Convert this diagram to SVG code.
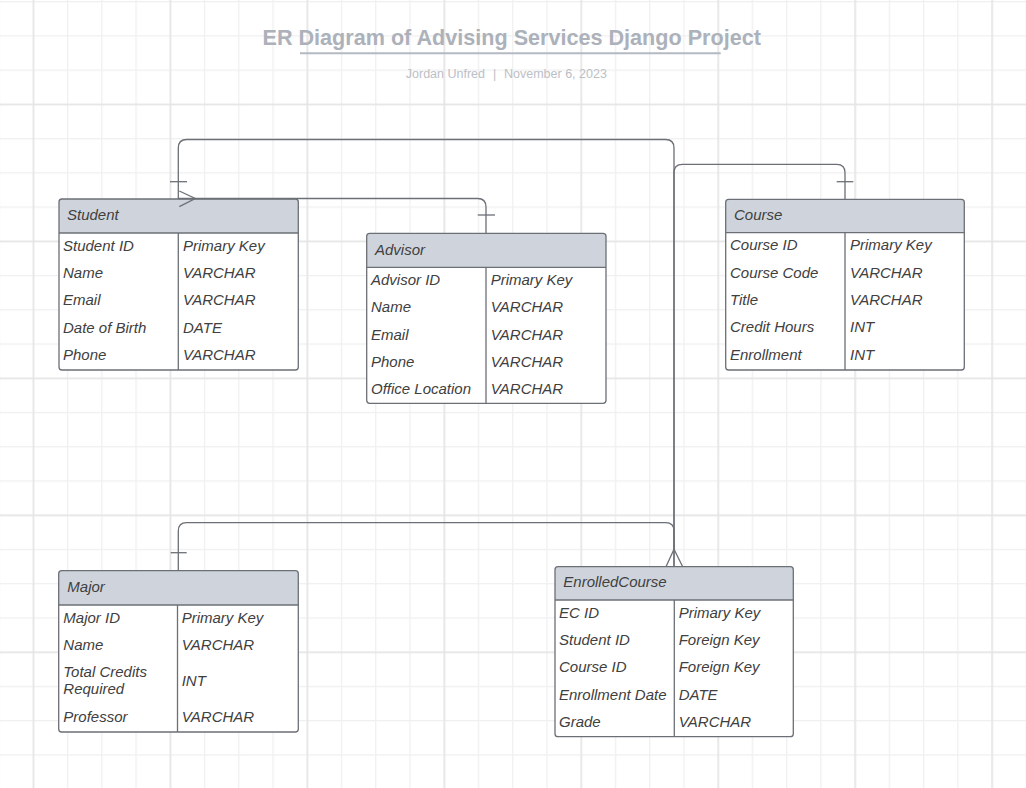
<svg xmlns="http://www.w3.org/2000/svg" width="1026" height="788" viewBox="0 0 1026 788">
<style>
.hdr{fill:#cfd4dc;stroke:none}
.box{fill:#ffffff;stroke:none}
.frame{fill:none;stroke:#6b6f76;stroke-width:1.3}
.div{stroke:#6b6f76;stroke-width:1.3}
.t{font-family:"Liberation Sans",Arial,sans-serif;font-size:15px;font-style:italic;fill:#404040}
.conn{fill:none;stroke:#6b6f76;stroke-width:1.3}
</style>
<defs>
<pattern id="minor" patternUnits="userSpaceOnUse" x="32.7" y="1" width="34.24" height="34.24">
<rect x="0" y="0" width="1.3" height="34.24" fill="#f0f0f0"/>
<rect x="0" y="0" width="34.24" height="1.3" fill="#f0f0f0"/>
</pattern>
<pattern id="major" patternUnits="userSpaceOnUse" x="32.7" y="103.7" width="136.96" height="136.96">
<rect x="0" y="0" width="1.4" height="136.96" fill="#e4e4e4"/>
<rect x="0" y="0" width="136.96" height="1.4" fill="#e4e4e4"/>
</pattern>
</defs>
<rect width="1026" height="788" fill="#ffffff"/>
<rect width="1026" height="788" fill="url(#minor)"/>
<rect width="1026" height="788" fill="url(#major)"/>

<g id="title">
<text x="511.7" y="45" text-anchor="middle" font-family="Liberation Sans,Arial,sans-serif" font-size="21.6" font-weight="bold" fill="#acb1ba">ER Diagram of Advising Services Django Project</text>
<line x1="300" y1="53.3" x2="720.7" y2="53.3" stroke="#b4b9c2" stroke-width="2"/>
<text x="485" y="77.5" text-anchor="end" font-family="Liberation Sans,Arial,sans-serif" font-size="12.5" fill="#bcc0c6">Jordan Unfred</text>
<text x="494.5" y="77.5" text-anchor="middle" font-family="Liberation Sans,Arial,sans-serif" font-size="12.5" fill="#bcc0c6">|</text>
<text x="504" y="77.5" font-family="Liberation Sans,Arial,sans-serif" font-size="12.5" fill="#bcc0c6">November 6, 2023</text>
</g>

<g id="student">
<rect class="box" x="59" y="199" width="239.3" height="171" rx="3"/>
<path class="hdr" d="M62,199 H295.3 Q298.3,199 298.3,202 V233 H59 V202 Q59,199 62,199 Z"/>
<rect class="frame" x="59" y="199" width="239.3" height="171" rx="3"/>
<line class="div" x1="59" y1="233" x2="298.3" y2="233"/>
<line class="div" x1="178.3" y1="233" x2="178.3" y2="370"/>
<text class="t" x="67" y="220">Student</text>
<text class="t" x="63" y="250.5">Student ID</text><text class="t" x="183" y="250.5">Primary Key</text>
<text class="t" x="63" y="277.9">Name</text><text class="t" x="183" y="277.9">VARCHAR</text>
<text class="t" x="63" y="305.3">Email</text><text class="t" x="183" y="305.3">VARCHAR</text>
<text class="t" x="63" y="332.7">Date of Birth</text><text class="t" x="183" y="332.7">DATE</text>
<text class="t" x="63" y="360.1">Phone</text><text class="t" x="183" y="360.1">VARCHAR</text>
</g>

<g id="advisor">
<rect class="box" x="366.7" y="233.3" width="239.3" height="170" rx="3"/>
<path class="hdr" d="M369.7,233.3 H603 Q606,233.3 606,236.3 V267.3 H366.7 V236.3 Q366.7,233.3 369.7,233.3 Z"/>
<rect class="frame" x="366.7" y="233.3" width="239.3" height="170" rx="3"/>
<line class="div" x1="366.7" y1="267.3" x2="606" y2="267.3"/>
<line class="div" x1="486" y1="267.3" x2="486" y2="403.3"/>
<text class="t" x="375" y="254.5">Advisor</text>
<text class="t" x="371" y="284.8">Advisor ID</text><text class="t" x="490.7" y="284.8">Primary Key</text>
<text class="t" x="371" y="312.2">Name</text><text class="t" x="490.7" y="312.2">VARCHAR</text>
<text class="t" x="371" y="339.6">Email</text><text class="t" x="490.7" y="339.6">VARCHAR</text>
<text class="t" x="371" y="367">Phone</text><text class="t" x="490.7" y="367">VARCHAR</text>
<text class="t" x="371" y="394.4">Office Location</text><text class="t" x="490.7" y="394.4">VARCHAR</text>
</g>

<g id="course">
<rect class="box" x="725.7" y="199.3" width="238.6" height="170.7" rx="3"/>
<path class="hdr" d="M728.7,199.3 H961.3 Q964.3,199.3 964.3,202.3 V232.7 H725.7 V202.3 Q725.7,199.3 728.7,199.3 Z"/>
<rect class="frame" x="725.7" y="199.3" width="238.6" height="170.7" rx="3"/>
<line class="div" x1="725.7" y1="232.7" x2="964.3" y2="232.7"/>
<line class="div" x1="845" y1="232.7" x2="845" y2="370"/>
<text class="t" x="734" y="220">Course</text>
<text class="t" x="730" y="250.2">Course ID</text><text class="t" x="850" y="250.2">Primary Key</text>
<text class="t" x="730" y="277.6">Course Code</text><text class="t" x="850" y="277.6">VARCHAR</text>
<text class="t" x="730" y="305">Title</text><text class="t" x="850" y="305">VARCHAR</text>
<text class="t" x="730" y="332.4">Credit Hours</text><text class="t" x="850" y="332.4">INT</text>
<text class="t" x="730" y="359.8">Enrollment</text><text class="t" x="850" y="359.8">INT</text>
</g>

<g id="major">
<rect class="box" x="58.7" y="570.7" width="239.6" height="161.3" rx="3"/>
<path class="hdr" d="M61.7,570.7 H295.3 Q298.3,570.7 298.3,573.7 V605 H58.7 V573.7 Q58.7,570.7 61.7,570.7 Z"/>
<rect class="frame" x="58.7" y="570.7" width="239.6" height="161.3" rx="3"/>
<line class="div" x1="58.7" y1="605" x2="298.3" y2="605"/>
<line class="div" x1="177.5" y1="605" x2="177.5" y2="732"/>
<text class="t" x="67.3" y="591.7">Major</text>
<text class="t" x="63.3" y="622.5">Major ID</text><text class="t" x="181.7" y="622.5">Primary Key</text>
<text class="t" x="63.3" y="649.9">Name</text><text class="t" x="181.7" y="649.9">VARCHAR</text>
<text class="t" x="63.3" y="676.7">Total Credits</text>
<text class="t" x="63.3" y="694.3">Required</text><text class="t" x="181.7" y="686">INT</text>
<text class="t" x="63.3" y="722.3">Professor</text><text class="t" x="181.7" y="722.3">VARCHAR</text>
</g>

<g id="enrolledcourse">
<rect class="box" x="555" y="566.7" width="238.3" height="170" rx="3"/>
<path class="hdr" d="M558,566.7 H790.3 Q793.3,566.7 793.3,569.7 V600 H555 V569.7 Q555,566.7 558,566.7 Z"/>
<rect class="frame" x="555" y="566.7" width="238.3" height="170" rx="3"/>
<line class="div" x1="555" y1="600" x2="793.3" y2="600"/>
<line class="div" x1="674.3" y1="600" x2="674.3" y2="736.7"/>
<text class="t" x="563.3" y="587">EnrolledCourse</text>
<text class="t" x="559" y="617.5">EC ID</text><text class="t" x="678.7" y="617.5">Primary Key</text>
<text class="t" x="559" y="644.9">Student ID</text><text class="t" x="678.7" y="644.9">Foreign Key</text>
<text class="t" x="559" y="672.3">Course ID</text><text class="t" x="678.7" y="672.3">Foreign Key</text>
<text class="t" x="559" y="699.7">Enrollment Date</text><text class="t" x="678.7" y="699.7">DATE</text>
<text class="t" x="559" y="727.1">Grade</text><text class="t" x="678.7" y="727.1">VARCHAR</text>
</g>

<g id="connectors">
<path class="conn" d="M486,233.3 V207 Q486,198.5 477.5,198.5 H178.3"/>
<path class="conn" d="M477.7,215 H495"/>
<path class="conn" d="M179.3,191 L195.3,198.5 L179.3,206.7"/>
<path class="conn" d="M178.3,199 V148 Q178.3,139.5 186.8,139.5 H665.5 Q674,139.5 674,148 V566.7"/>
<path class="conn" d="M170,181.7 H187"/>
<path class="conn" d="M845,199.3 V172.6 Q845,164.3 836.7,164.3 H682.3 Q674,164.3 674,172.6 V549"/>
<path class="conn" d="M836.7,181.7 H853.3"/>
<path class="conn" d="M178.3,570.7 V531 Q178.3,522.7 186.6,522.7 H665.7 Q674,522.7 674,531 V566.7"/>
<path class="conn" d="M170.7,552.7 H186.7"/>
<path class="conn" d="M666,566.7 L674,549.3 L682.7,566.7"/>
</g>
</svg>
